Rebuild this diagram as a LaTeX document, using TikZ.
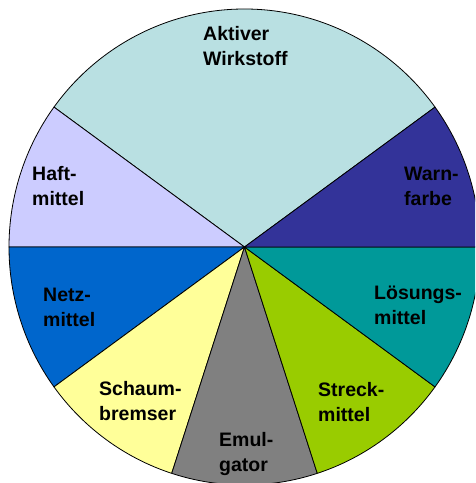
\documentclass[tikz,border=0pt]{standalone}
\usepackage{fontspec}
\setmainfont{Liberation Sans}
\definecolor{cAktiv}{HTML}{B9E0E2}
\definecolor{cWarn}{HTML}{333399}
\definecolor{cLoes}{HTML}{009999}
\definecolor{cStreck}{HTML}{99CC00}
\definecolor{cEmul}{HTML}{808080}
\definecolor{cSchaum}{HTML}{FFFF99}
\definecolor{cNetz}{HTML}{0066CC}
\definecolor{cHaft}{HTML}{CCCCFF}
\tikzset{
  slice/.style={draw=black, line width=0.8pt, line join=round},
  lbl/.style={anchor=base west, inner sep=0pt, align=left, text=black,
    font=\fontsize{19.5}{25}\selectfont\bfseries}
}
\newcommand{\pieslice}[3]{%
  \filldraw[slice, fill=#1] (C) -- ++(#2:235.5pt and 238pt)
    arc[start angle=#2, end angle=#3, x radius=235.5pt, y radius=238pt] -- cycle;}
\begin{document}
\begin{tikzpicture}[x=1pt,y=1pt]
\useasboundingbox (0,0) rectangle (475,483);
\clip (0,0) rectangle (475,483);
\coordinate (C) at (244.5,236);
\pieslice{cAktiv}{36}{144}
\pieslice{cHaft}{144}{180}
\pieslice{cNetz}{180}{216}
\pieslice{cSchaum}{216}{252}
\pieslice{cEmul}{252}{288}
\pieslice{cStreck}{288}{324}
\pieslice{cLoes}{324}{360}
\pieslice{cWarn}{0}{36}
\node[lbl] (aktiv) at (203,417.3) {Aktiver\\Wirkstoff};
\node[lbl] (haft) at (32,277.3) {Haft-\\mittel};
\node[lbl] (warn) at (404,277.3) {Warn-\\farbe};
\node[lbl] (netz) at (43,156.3) {Netz-\\mittel};
\node[lbl] (loes) at (374,158) {Lösungs-\\mittel};
\node[lbl] (schaum) at (99,62) {Schaum-\\bremser};
\node[lbl] (streck) at (318,61) {Streck-\\mittel};
\node[lbl] (emul) at (219,12) {Emul-\\gator};
\end{tikzpicture}
\end{document}
